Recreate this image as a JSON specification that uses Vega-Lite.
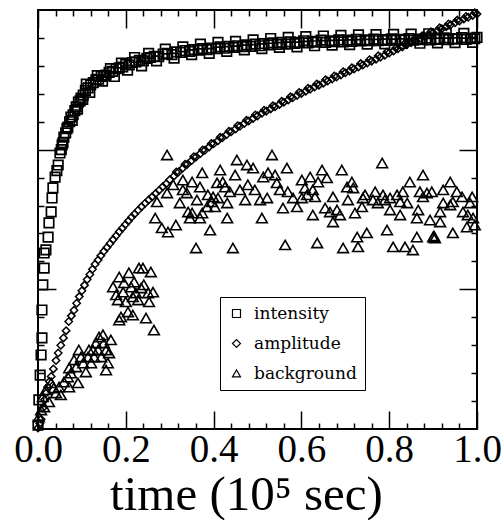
{
  "$schema": "https://vega.github.io/schema/vega-lite/v6.json",
  "width": 439,
  "height": 419,
  "autosize": "none",
  "padding": {"left": 38, "top": 10, "right": 26, "bottom": 91},
  "background": "white",
  "config": {
    "view": {"stroke": "black", "strokeWidth": 2},
    "font": "Liberation Serif",
    "style": {"guide-label": {"font": "DejaVu Serif", "fill": "black"}},
    "axis": {"grid": false, "domain": false, "labels": false, "tickColor": "black", "tickWidth": 1.5, "labelColor": "black", "titleColor": "black", "labelFont": "Liberation Serif", "titleFont": "Liberation Serif"},
    "legend": {"labelFont": "DejaVu Serif", "labelFontSize": 17, "labelColor": "black", "strokeColor": "black", "fillColor": "white", "padding": 8, "symbolSize": 64, "symbolStrokeWidth": 1.2, "symbolStrokeColor": "black", "symbolFillColor": "white", "rowPadding": 12, "labelOffset": 9, "labelLimit": 300}
  },
  "datasets": {
    "intensity": [
      {"t":0.000,"v":0.014},{"t":0.002,"v":0.104},{"t":0.005,"v":0.193},{"t":0.007,"v":0.265},{"t":0.009,"v":0.326},{"t":0.009,"v":0.426},{"t":0.011,"v":0.516},{"t":0.014,"v":0.576},{"t":0.014,"v":0.630},{"t":0.018,"v":0.641},{"t":0.023,"v":0.687},{"t":0.025,"v":0.738},{"t":0.030,"v":0.777},{"t":0.032,"v":0.827},{"t":0.034,"v":0.863},{"t":0.039,"v":0.902},{"t":0.043,"v":0.925},{"t":0.046,"v":0.945},{"t":0.050,"v":0.988},{"t":0.053,"v":1.000},{"t":0.055,"v":1.017},{"t":0.057,"v":1.025},{"t":0.059,"v":1.045},{"t":0.063,"v":1.060},{"t":0.066,"v":1.075},{"t":0.068,"v":1.081},{"t":0.072,"v":1.100},{"t":0.075,"v":1.117},{"t":0.078,"v":1.105},{"t":0.080,"v":1.125},{"t":0.084,"v":1.140},{"t":0.087,"v":1.153},{"t":0.090,"v":1.145},{"t":0.092,"v":1.170},{"t":0.096,"v":1.175},{"t":0.098,"v":1.185},{"t":0.102,"v":1.180},{"t":0.103,"v":1.195},{"t":0.108,"v":1.212},{"t":0.110,"v":1.235},{"t":0.114,"v":1.221},{"t":0.118,"v":1.205},{"t":0.120,"v":1.232},{"t":0.126,"v":1.240},{"t":0.132,"v":1.250},{"t":0.135,"v":1.265},{"t":0.138,"v":1.252},{"t":0.144,"v":1.262},{"t":0.147,"v":1.245},{"t":0.150,"v":1.265},{"t":0.155,"v":1.267},{"t":0.162,"v":1.277},{"t":0.165,"v":1.290},{"t":0.170,"v":1.280},{"t":0.174,"v":1.262},{"t":0.178,"v":1.290},{"t":0.185,"v":1.293},{"t":0.190,"v":1.310},{"t":0.193,"v":1.296},{"t":0.200,"v":1.305},{"t":0.204,"v":1.285},{"t":0.208,"v":1.303},{"t":0.215,"v":1.312},{"t":0.220,"v":1.330},{"t":0.223,"v":1.314},{"t":0.231,"v":1.320},{"t":0.236,"v":1.300},{"t":0.240,"v":1.318},{"t":0.248,"v":1.327},{"t":0.252,"v":1.345},{"t":0.256,"v":1.330},{"t":0.265,"v":1.334},{"t":0.270,"v":1.318},{"t":0.275,"v":1.333},{"t":0.285,"v":1.342},{"t":0.290,"v":1.360},{"t":0.295,"v":1.345},{"t":0.305,"v":1.340},{"t":0.310,"v":1.328},{"t":0.315,"v":1.350},{"t":0.325,"v":1.348},{"t":0.330,"v":1.368},{"t":0.335,"v":1.355},{"t":0.345,"v":1.352},{"t":0.350,"v":1.340},{"t":0.355,"v":1.358},{"t":0.365,"v":1.356},{"t":0.370,"v":1.378},{"t":0.375,"v":1.362},{"t":0.385,"v":1.358},{"t":0.390,"v":1.345},{"t":0.395,"v":1.364},{"t":0.405,"v":1.362},{"t":0.410,"v":1.384},{"t":0.415,"v":1.368},{"t":0.425,"v":1.363},{"t":0.430,"v":1.352},{"t":0.435,"v":1.370},{"t":0.445,"v":1.366},{"t":0.450,"v":1.388},{"t":0.455,"v":1.372},{"t":0.465,"v":1.369},{"t":0.470,"v":1.357},{"t":0.475,"v":1.375},{"t":0.485,"v":1.370},{"t":0.490,"v":1.393},{"t":0.495,"v":1.378},{"t":0.505,"v":1.372},{"t":0.510,"v":1.362},{"t":0.515,"v":1.380},{"t":0.525,"v":1.375},{"t":0.530,"v":1.398},{"t":0.535,"v":1.382},{"t":0.545,"v":1.377},{"t":0.550,"v":1.366},{"t":0.555,"v":1.384},{"t":0.565,"v":1.378},{"t":0.570,"v":1.402},{"t":0.575,"v":1.386},{"t":0.585,"v":1.380},{"t":0.590,"v":1.368},{"t":0.595,"v":1.384},{"t":0.605,"v":1.390},{"t":0.610,"v":1.405},{"t":0.615,"v":1.382},{"t":0.625,"v":1.388},{"t":0.630,"v":1.372},{"t":0.635,"v":1.385},{"t":0.645,"v":1.392},{"t":0.650,"v":1.407},{"t":0.655,"v":1.384},{"t":0.665,"v":1.390},{"t":0.670,"v":1.374},{"t":0.675,"v":1.387},{"t":0.685,"v":1.393},{"t":0.690,"v":1.409},{"t":0.695,"v":1.386},{"t":0.705,"v":1.392},{"t":0.710,"v":1.376},{"t":0.715,"v":1.388},{"t":0.725,"v":1.395},{"t":0.730,"v":1.411},{"t":0.735,"v":1.389},{"t":0.745,"v":1.393},{"t":0.750,"v":1.378},{"t":0.755,"v":1.390},{"t":0.765,"v":1.396},{"t":0.770,"v":1.412},{"t":0.775,"v":1.390},{"t":0.785,"v":1.394},{"t":0.790,"v":1.379},{"t":0.795,"v":1.391},{"t":0.805,"v":1.397},{"t":0.810,"v":1.413},{"t":0.815,"v":1.392},{"t":0.825,"v":1.395},{"t":0.830,"v":1.380},{"t":0.835,"v":1.393},{"t":0.845,"v":1.398},{"t":0.850,"v":1.414},{"t":0.855,"v":1.392},{"t":0.865,"v":1.396},{"t":0.870,"v":1.381},{"t":0.875,"v":1.394},{"t":0.885,"v":1.399},{"t":0.890,"v":1.415},{"t":0.895,"v":1.393},{"t":0.905,"v":1.397},{"t":0.910,"v":1.382},{"t":0.915,"v":1.395},{"t":0.925,"v":1.400},{"t":0.930,"v":1.416},{"t":0.935,"v":1.394},{"t":0.945,"v":1.398},{"t":0.950,"v":1.383},{"t":0.955,"v":1.396},{"t":0.965,"v":1.401},{"t":0.970,"v":1.416},{"t":0.975,"v":1.395},{"t":0.985,"v":1.399},{"t":0.990,"v":1.384},{"t":0.995,"v":1.397},{"t":1.000,"v":1.402}
    ],
    "amplitude": [
      {"t":0.000,"v":0.004},{"t":0.004,"v":0.020},{"t":0.007,"v":0.035},{"t":0.011,"v":0.075},{"t":0.015,"v":0.105},{"t":0.018,"v":0.128},{"t":0.022,"v":0.150},{"t":0.026,"v":0.170},{"t":0.030,"v":0.188},{"t":0.035,"v":0.215},{"t":0.041,"v":0.245},{"t":0.046,"v":0.272},{"t":0.052,"v":0.300},{"t":0.058,"v":0.326},{"t":0.064,"v":0.352},{"t":0.070,"v":0.385},{"t":0.076,"v":0.405},{"t":0.082,"v":0.425},{"t":0.088,"v":0.450},{"t":0.094,"v":0.474},{"t":0.100,"v":0.495},{"t":0.106,"v":0.515},{"t":0.112,"v":0.535},{"t":0.118,"v":0.553},{"t":0.124,"v":0.572},{"t":0.130,"v":0.590},{"t":0.137,"v":0.605},{"t":0.143,"v":0.620},{"t":0.150,"v":0.636},{"t":0.157,"v":0.650},{"t":0.164,"v":0.664},{"t":0.171,"v":0.678},{"t":0.178,"v":0.692},{"t":0.185,"v":0.706},{"t":0.192,"v":0.719},{"t":0.199,"v":0.732},{"t":0.206,"v":0.745},{"t":0.213,"v":0.758},{"t":0.220,"v":0.770},{"t":0.228,"v":0.783},{"t":0.236,"v":0.796},{"t":0.244,"v":0.808},{"t":0.252,"v":0.820},{"t":0.260,"v":0.831},{"t":0.268,"v":0.843},{"t":0.276,"v":0.855},{"t":0.284,"v":0.867},{"t":0.292,"v":0.878},{"t":0.300,"v":0.892},{"t":0.310,"v":0.906},{"t":0.315,"v":0.920},{"t":0.320,"v":0.920},{"t":0.330,"v":0.934},{"t":0.335,"v":0.948},{"t":0.340,"v":0.948},{"t":0.350,"v":0.961},{"t":0.355,"v":0.975},{"t":0.360,"v":0.974},{"t":0.370,"v":0.986},{"t":0.375,"v":0.999},{"t":0.380,"v":0.998},{"t":0.390,"v":1.010},{"t":0.395,"v":1.022},{"t":0.400,"v":1.021},{"t":0.410,"v":1.032},{"t":0.415,"v":1.044},{"t":0.420,"v":1.043},{"t":0.430,"v":1.054},{"t":0.435,"v":1.066},{"t":0.440,"v":1.064},{"t":0.450,"v":1.074},{"t":0.455,"v":1.086},{"t":0.460,"v":1.084},{"t":0.470,"v":1.094},{"t":0.475,"v":1.105},{"t":0.480,"v":1.103},{"t":0.490,"v":1.112},{"t":0.495,"v":1.124},{"t":0.500,"v":1.121},{"t":0.510,"v":1.130},{"t":0.515,"v":1.141},{"t":0.520,"v":1.138},{"t":0.530,"v":1.146},{"t":0.535,"v":1.157},{"t":0.540,"v":1.154},{"t":0.550,"v":1.162},{"t":0.555,"v":1.173},{"t":0.560,"v":1.170},{"t":0.570,"v":1.178},{"t":0.575,"v":1.189},{"t":0.580,"v":1.186},{"t":0.590,"v":1.194},{"t":0.595,"v":1.205},{"t":0.600,"v":1.201},{"t":0.610,"v":1.209},{"t":0.615,"v":1.220},{"t":0.620,"v":1.216},{"t":0.630,"v":1.224},{"t":0.635,"v":1.235},{"t":0.640,"v":1.231},{"t":0.650,"v":1.238},{"t":0.655,"v":1.250},{"t":0.660,"v":1.246},{"t":0.670,"v":1.253},{"t":0.675,"v":1.264},{"t":0.680,"v":1.260},{"t":0.690,"v":1.267},{"t":0.695,"v":1.279},{"t":0.700,"v":1.275},{"t":0.710,"v":1.282},{"t":0.715,"v":1.293},{"t":0.720,"v":1.289},{"t":0.730,"v":1.296},{"t":0.735,"v":1.308},{"t":0.740,"v":1.303},{"t":0.750,"v":1.310},{"t":0.755,"v":1.322},{"t":0.760,"v":1.317},{"t":0.770,"v":1.324},{"t":0.775,"v":1.336},{"t":0.780,"v":1.331},{"t":0.790,"v":1.338},{"t":0.795,"v":1.350},{"t":0.800,"v":1.346},{"t":0.810,"v":1.353},{"t":0.815,"v":1.364},{"t":0.820,"v":1.361},{"t":0.830,"v":1.368},{"t":0.835,"v":1.379},{"t":0.840,"v":1.376},{"t":0.850,"v":1.383},{"t":0.855,"v":1.393},{"t":0.860,"v":1.391},{"t":0.870,"v":1.398},{"t":0.875,"v":1.408},{"t":0.880,"v":1.405},{"t":0.890,"v":1.412},{"t":0.895,"v":1.422},{"t":0.900,"v":1.419},{"t":0.910,"v":1.426},{"t":0.915,"v":1.436},{"t":0.920,"v":1.433},{"t":0.930,"v":1.440},{"t":0.935,"v":1.450},{"t":0.940,"v":1.447},{"t":0.950,"v":1.454},{"t":0.955,"v":1.464},{"t":0.960,"v":1.461},{"t":0.970,"v":1.468},{"t":0.975,"v":1.477},{"t":0.980,"v":1.474},{"t":0.990,"v":1.480},{"t":0.995,"v":1.490},{"t":1.000,"v":1.486}
    ],
    "background": [
      {"t":0.002,"v":0.043},{"t":0.007,"v":0.068},{"t":0.011,"v":0.115},{"t":0.014,"v":0.079},{"t":0.018,"v":0.140},{"t":0.025,"v":0.097},{"t":0.030,"v":0.165},{"t":0.036,"v":0.147},{"t":0.041,"v":0.129},{"t":0.048,"v":0.150},{"t":0.052,"v":0.122},{"t":0.059,"v":0.168},{"t":0.068,"v":0.186},{"t":0.071,"v":0.150},{"t":0.071,"v":0.218},{"t":0.075,"v":0.200},{"t":0.082,"v":0.247},{"t":0.087,"v":0.222},{"t":0.091,"v":0.165},{"t":0.093,"v":0.283},{"t":0.098,"v":0.258},{"t":0.103,"v":0.236},{"t":0.109,"v":0.204},{"t":0.114,"v":0.258},{"t":0.116,"v":0.283},{"t":0.121,"v":0.236},{"t":0.125,"v":0.283},{"t":0.128,"v":0.258},{"t":0.132,"v":0.308},{"t":0.137,"v":0.283},{"t":0.139,"v":0.329},{"t":0.144,"v":0.258},{"t":0.148,"v":0.337},{"t":0.150,"v":0.308},{"t":0.155,"v":0.283},{"t":0.155,"v":0.211},{"t":0.159,"v":0.236},{"t":0.162,"v":0.272},{"t":0.166,"v":0.319},
      {"t":0.171,"v":0.508},{"t":0.178,"v":0.480},{"t":0.182,"v":0.462},{"t":0.185,"v":0.544},{"t":0.185,"v":0.390},{"t":0.189,"v":0.401},{"t":0.194,"v":0.490},{"t":0.196,"v":0.523},{"t":0.200,"v":0.455},{"t":0.205,"v":0.419},{"t":0.207,"v":0.559},{"t":0.212,"v":0.508},{"t":0.216,"v":0.473},{"t":0.216,"v":0.408},{"t":0.219,"v":0.526},{"t":0.223,"v":0.487},{"t":0.228,"v":0.462},{"t":0.230,"v":0.576},{"t":0.235,"v":0.505},{"t":0.239,"v":0.576},{"t":0.241,"v":0.516},{"t":0.246,"v":0.397},{"t":0.251,"v":0.487},{"t":0.253,"v":0.455},{"t":0.257,"v":0.562},{"t":0.262,"v":0.490},{"t":0.264,"v":0.354},
      {"t":0.267,"v":0.755},{"t":0.271,"v":0.813},{"t":0.282,"v":0.720},{"t":0.294,"v":0.981},{"t":0.294,"v":0.845},{"t":0.296,"v":0.705},{"t":0.308,"v":0.874},{"t":0.314,"v":0.730},{"t":0.323,"v":0.809},{"t":0.330,"v":0.856},{"t":0.330,"v":0.891},{"t":0.339,"v":0.845},{"t":0.342,"v":0.777},{"t":0.346,"v":0.755},{"t":0.351,"v":0.884},{"t":0.351,"v":0.773},{"t":0.360,"v":0.648},{"t":0.362,"v":0.820},{"t":0.369,"v":0.866},{"t":0.369,"v":0.755},{"t":0.374,"v":0.917},{"t":0.374,"v":0.773},{"t":0.385,"v":0.795},{"t":0.387,"v":0.838},{"t":0.392,"v":0.712},{"t":0.396,"v":0.813},{"t":0.399,"v":0.831},{"t":0.403,"v":0.795},{"t":0.408,"v":0.881},{"t":0.410,"v":0.827},{"t":0.415,"v":0.927},{"t":0.421,"v":0.884},{"t":0.426,"v":0.866},{"t":0.431,"v":0.809},{"t":0.431,"v":0.755},{"t":0.437,"v":0.849},{"t":0.444,"v":0.648},{"t":0.449,"v":0.909},{"t":0.453,"v":0.963},{"t":0.460,"v":0.856},{"t":0.472,"v":0.820},{"t":0.476,"v":0.945},{"t":0.478,"v":0.874},{"t":0.490,"v":0.934},{"t":0.494,"v":0.856},{"t":0.506,"v":0.820},{"t":0.510,"v":0.755},{"t":0.513,"v":0.902},{"t":0.522,"v":0.827},{"t":0.524,"v":0.917},{"t":0.533,"v":0.981},{"t":0.540,"v":0.909},{"t":0.544,"v":0.881},{"t":0.551,"v":0.856},{"t":0.558,"v":0.791},{"t":0.563,"v":0.659},{"t":0.567,"v":0.934},{"t":0.569,"v":0.849},{"t":0.581,"v":0.827},{"t":0.590,"v":0.795},{"t":0.601,"v":0.891},{"t":0.601,"v":0.827},{"t":0.608,"v":0.863},{"t":0.613,"v":0.838},{"t":0.620,"v":0.902},{"t":0.626,"v":0.856},{"t":0.626,"v":0.766},{"t":0.631,"v":0.831},{"t":0.636,"v":0.666},{"t":0.638,"v":0.884},{"t":0.647,"v":0.927},{"t":0.654,"v":0.791},{"t":0.658,"v":0.899},{"t":0.665,"v":0.777},{"t":0.672,"v":0.831},{"t":0.672,"v":0.741},{"t":0.681,"v":0.784},{"t":0.688,"v":0.766},{"t":0.692,"v":0.927},{"t":0.695,"v":0.648},{"t":0.704,"v":0.866},{"t":0.706,"v":0.820},{"t":0.715,"v":0.884},{"t":0.718,"v":0.863},{"t":0.722,"v":0.773},{"t":0.727,"v":0.687},{"t":0.729,"v":0.652},{"t":0.738,"v":0.795},{"t":0.740,"v":0.827},{"t":0.745,"v":0.838},{"t":0.749,"v":0.702},{"t":0.763,"v":0.820},{"t":0.768,"v":0.849},{"t":0.774,"v":0.809},{"t":0.784,"v":0.952},{"t":0.786,"v":0.838},{"t":0.790,"v":0.820},{"t":0.795,"v":0.712},{"t":0.802,"v":0.827},{"t":0.802,"v":0.784},{"t":0.809,"v":0.652},{"t":0.818,"v":0.838},{"t":0.825,"v":0.813},{"t":0.825,"v":0.766},{"t":0.831,"v":0.849},{"t":0.836,"v":0.652},{"t":0.841,"v":0.809},{"t":0.847,"v":0.884},{"t":0.854,"v":0.641},{"t":0.863,"v":0.755},{"t":0.863,"v":0.687},{"t":0.866,"v":0.784},{"t":0.870,"v":0.849},{"t":0.877,"v":0.909},{"t":0.877,"v":0.831},{"t":0.886,"v":0.845},{"t":0.893,"v":0.748},{"t":0.897,"v":0.849},{"t":0.900,"v":0.687},{"t":0.902,"v":0.691},{"t":0.904,"v":0.684},{"t":0.916,"v":0.777},{"t":0.916,"v":0.741},{"t":0.923,"v":0.856},{"t":0.923,"v":0.809},{"t":0.939,"v":0.884},{"t":0.939,"v":0.802},{"t":0.945,"v":0.813},{"t":0.945,"v":0.702},{"t":0.954,"v":0.849},{"t":0.966,"v":0.831},{"t":0.968,"v":0.777},{"t":0.977,"v":0.723},{"t":0.979,"v":0.766},{"t":0.984,"v":0.809},{"t":0.989,"v":0.831},{"t":0.991,"v":0.755},{"t":0.995,"v":0.730}
    ]
  },
  "layer": [
    {
      "data": {"name": "intensity"},
      "mark": {"type": "point", "filled": false, "color": "black", "strokeWidth": 1.7, "size": 90, "opacity": 1},
      "encoding": {
        "x": {"field": "t", "type": "quantitative", "scale": {"domain": [0, 1], "nice": false},
              "axis": {"orient": "bottom", "labels": true, "ticks": false, "values": [0, 0.2, 0.4, 0.6, 0.8, 1.0], "format": ".1f", "labelFontSize": 39, "labelPadding": 1, "labelFlush": false, "labelOverlap": false, "title": "time (10⁵ sec)", "titleFontSize": 49, "titleFontWeight": "normal", "titleBaseline": "alphabetic", "titleAlign": "center", "titleX": 208, "titleY": 80}},
        "y": {"field": "v", "type": "quantitative", "scale": {"domain": [0, 1.5], "nice": false},
              "axis": {"orient": "left", "values": [0.5, 1.0], "tickSize": -18, "title": null}},
        "shape": {"datum": "intensity", "type": "nominal",
                  "scale": {"domain": ["intensity", "amplitude", "background"], "range": ["square", "diamond", "triangle-up"]},
                  "legend": {"orient": "none", "legendX": 182, "legendY": 287, "title": null}}
      }
    },
    {
      "data": {"name": "amplitude"},
      "mark": {"type": "point", "filled": false, "color": "black", "strokeWidth": 1.5, "size": 55, "opacity": 1},
      "encoding": {
        "x": {"field": "t", "type": "quantitative", "scale": {"domain": [0, 1], "nice": false}, "axis": null},
        "y": {"field": "v", "type": "quantitative", "scale": {"domain": [0, 1.5], "nice": false}, "axis": null},
        "shape": {"datum": "amplitude", "type": "nominal",
                  "scale": {"domain": ["intensity", "amplitude", "background"], "range": ["square", "diamond", "triangle-up"]},
                  "legend": {"orient": "none", "legendX": 182, "legendY": 287, "title": null}}
      }
    },
    {
      "data": {"name": "background"},
      "mark": {"type": "point", "filled": false, "color": "black", "strokeWidth": 1.6, "size": 115, "opacity": 1},
      "encoding": {
        "x": {"field": "t", "type": "quantitative", "scale": {"domain": [0, 1], "nice": false}, "axis": null},
        "y": {"field": "v", "type": "quantitative", "scale": {"domain": [0, 1.5], "nice": false}, "axis": null},
        "shape": {"datum": "background", "type": "nominal",
                  "scale": {"domain": ["intensity", "amplitude", "background"], "range": ["square", "diamond", "triangle-up"]},
                  "legend": {"orient": "none", "legendX": 182, "legendY": 287, "title": null}}
      }
    },
    {
      "data": {"values": [{"a": 0.5}]},
      "mark": {"type": "point", "opacity": 0},
      "encoding": {
        "x": {"field": "a", "type": "quantitative", "scale": {"domain": [0, 1], "nice": false},
              "axis": {"orient": "bottom", "values": [0, 0.2, 0.4, 0.6, 0.8, 1.0], "tickSize": -18, "title": null}},
        "y": {"field": "a", "type": "quantitative", "scale": {"domain": [0, 1.5], "nice": false},
              "axis": {"orient": "left", "values": [0.1, 0.2, 0.3, 0.4, 0.6, 0.7, 0.8, 0.9, 1.1, 1.2, 1.3, 1.4], "tickSize": -6, "title": null}}
      }
    },
    {
      "data": {"values": [{"a": 0.5}]},
      "mark": {"type": "point", "opacity": 0},
      "encoding": {
        "x": {"field": "a", "type": "quantitative", "scale": {"domain": [0, 1], "nice": false},
              "axis": {"orient": "bottom", "values": [0.04, 0.08, 0.12, 0.16, 0.24, 0.28, 0.32, 0.36, 0.44, 0.48, 0.52, 0.56, 0.64, 0.68, 0.72, 0.76, 0.84, 0.88, 0.92, 0.96], "tickSize": -6, "title": null}},
        "y": {"field": "a", "type": "quantitative", "scale": {"domain": [0, 1.5], "nice": false},
              "axis": {"orient": "right", "values": [0.5, 1.0], "tickSize": -18, "title": null}}
      }
    },
    {
      "data": {"values": [{"a": 0.5}]},
      "mark": {"type": "point", "opacity": 0},
      "encoding": {
        "x": {"field": "a", "type": "quantitative", "scale": {"domain": [0, 1], "nice": false},
              "axis": {"orient": "top", "values": [0, 0.2, 0.4, 0.6, 0.8, 1.0], "tickSize": -18, "title": null}},
        "y": {"field": "a", "type": "quantitative", "scale": {"domain": [0, 1.5], "nice": false},
              "axis": {"orient": "right", "values": [0.1, 0.2, 0.3, 0.4, 0.6, 0.7, 0.8, 0.9, 1.1, 1.2, 1.3, 1.4], "tickSize": -6, "title": null}}
      }
    },
    {
      "data": {"values": [{"a": 0.5}]},
      "mark": {"type": "point", "opacity": 0},
      "encoding": {
        "x": {"field": "a", "type": "quantitative", "scale": {"domain": [0, 1], "nice": false},
              "axis": {"orient": "top", "values": [0.04, 0.08, 0.12, 0.16, 0.24, 0.28, 0.32, 0.36, 0.44, 0.48, 0.52, 0.56, 0.64, 0.68, 0.72, 0.76, 0.84, 0.88, 0.92, 0.96], "tickSize": -6, "title": null}},
        "y": {"field": "a", "type": "quantitative", "scale": {"domain": [0, 1.5], "nice": false}, "axis": null}
      }
    }
  ],
  "resolve": {
    "scale": {"x": "independent", "y": "independent"},
    "axis": {"x": "independent", "y": "independent"}
  }
}
